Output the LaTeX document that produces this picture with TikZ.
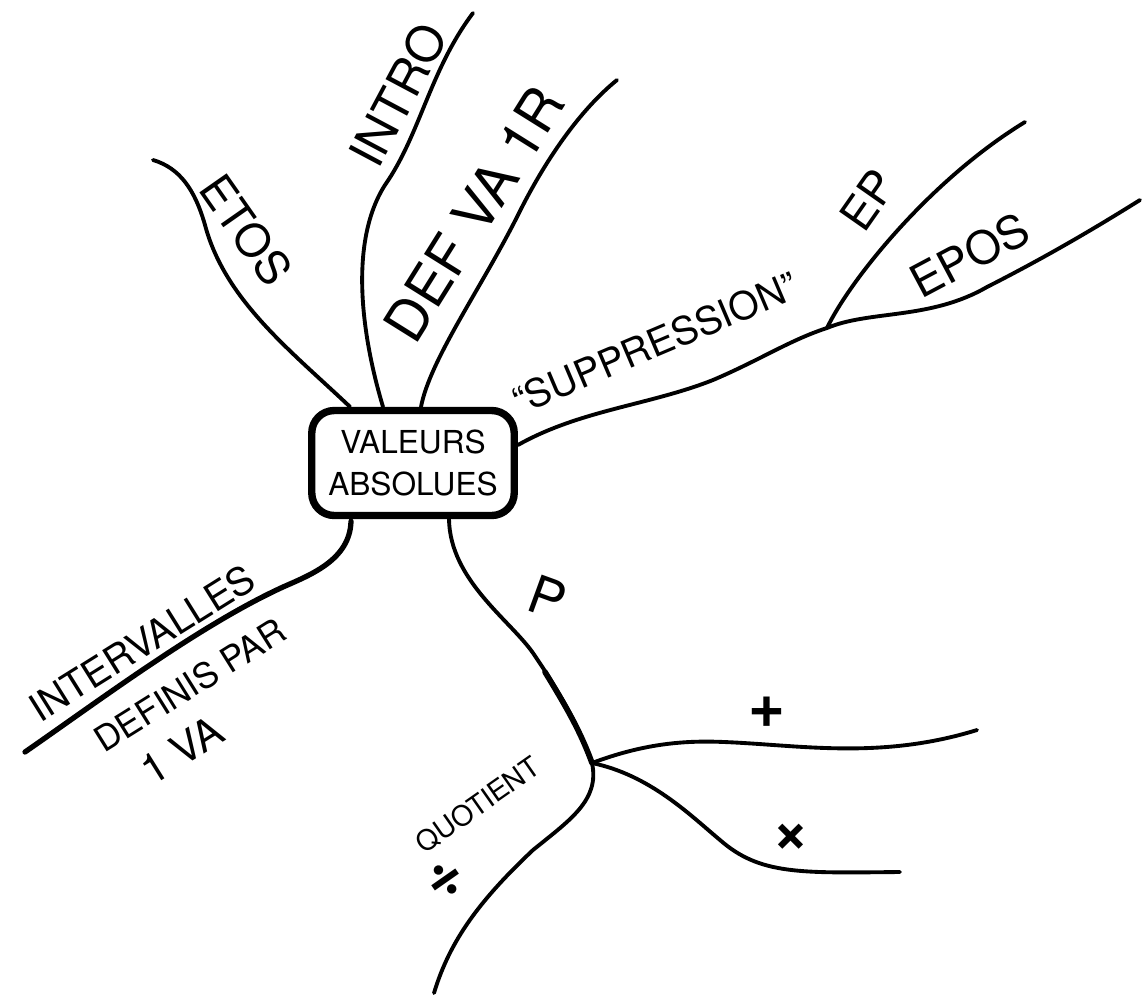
\documentclass[tikz,border=0pt]{standalone}
\usepackage{fontspec}
\setmainfont{TeX Gyre Heros}
\usetikzlibrary{calc}
\begin{document}
\begin{tikzpicture}[x=0.02cm,y=-0.02cm,
  branch/.style={line width=2.2pt,line cap=round,line join=round},
  thickbranch/.style={line width=3pt,line cap=round},
  hand/.style={inner sep=0pt},
  centerbox/.style={draw,line width=4.2pt,rounded corners=0.45cm,minimum width=4.05cm,minimum height=2.1cm,align=center,font=\fontsize{18}{24}\selectfont,inner sep=2pt}]
\useasboundingbox (0,0) rectangle (1143,998);

\node[centerbox] (box) at (413,463) {VALEURS\\ABSOLUES};

% upper branches
\draw[branch] ($(box.north)+(-63,0)$) .. controls (290,350) and (225,300) .. (205,225) .. controls (195,190) and (180,168) .. (153,160) coordinate (etosEnd);
\draw[branch] ($(box.north)+(-30,0)$) .. controls (360,330) and (350,240) .. (385,185) .. controls (420,135) and (430,70) .. (473,13) coordinate (introEnd);
\draw[branch] ($(box.north)+(8,0)$) .. controls (430,360) and (480,290) .. (517,217) .. controls (545,160) and (580,110) .. (617,80) coordinate (defEnd);

% suppression
\coordinate (fork1) at (827,328);
\draw[branch] ($(box.east)+(0,-18)$) .. controls (580,410) and (650,405) .. (713,380) .. controls (760,360) and (790,340) .. (fork1);
\draw[branch] (fork1) .. controls (850,280) and (930,180) .. (1025,122) coordinate (epEnd);
\draw[branch] (fork1) .. controls (870,310) and (930,320) .. (987,287) .. controls (1050,255) and (1100,225) .. (1140,200) coordinate (eposEnd);

% intervalles
\draw[thickbranch] ($(box.south)+(-62,2)$) .. controls (350,560) and (310,575) .. (283,587) .. controls (200,625) and (100,700) .. (25,752) coordinate (intEnd);

% P branch
\coordinate (fork2) at (592,763);
\draw[branch] ($(box.south)+(36,0)$) .. controls (450,580) and (510,620) .. (533,653) .. controls (565,700) and (580,730) .. (fork2);
\draw[line width=3.2pt,line cap=round] (545,672) .. controls (565,705) and (580,730) .. (fork2);
\draw[branch] (fork2) .. controls (640,745) and (680,740) .. (724,742) .. controls (800,745) and (880,760) .. (977,730) coordinate (plusEnd);
\draw[branch] (fork2) .. controls (650,775) and (690,815) .. (720,840) .. controls (760,875) and (800,873) .. (900,872) coordinate (timesEnd);
\draw[branch] (fork2) .. controls (600,800) and (570,820) .. (533,850) .. controls (480,900) and (450,940) .. (434,993) coordinate (quotEnd);

% labels
\node[hand,rotate=-55,font=\fontsize{26}{26}\selectfont] (etos) at (246,230) {ETOS};
\node[hand,rotate=62,font=\fontsize{28}{28}\selectfont] (intro) at (398,95) {INTRO};
\node[hand,rotate=58,font=\fontsize{32}{32}\selectfont] (defva) at (474,214) {DEF VA 1R};
\node[hand,rotate=23,font=\fontsize{22}{22}\selectfont] (supp) at (655,343) {``SUPPRESSION''};
\node[hand,rotate=55,font=\fontsize{26}{26}\selectfont] (ep) at (868,200) {EP};
\node[hand,rotate=28,font=\fontsize{26}{26}\selectfont] (epos) at (970,255) {EPOS};
\node[hand,rotate=32,font=\fontsize{22}{22}\selectfont] (interv) at (142,643) {INTERVALLES};
\node[hand,rotate=32,font=\fontsize{20}{20}\selectfont] (definis) at (190,685) {DEFINIS PAR};
\node[hand,rotate=32,font=\fontsize{24}{24}\selectfont] (unva) at (182,750) {1 VA};
\node[hand,rotate=-20,font=\fontsize{30}{30}\selectfont] (p) at (548,597) {P};
\node[hand,font=\bfseries\fontsize{36}{36}\selectfont] (plus) at (767,712) {+};
\node[hand,font=\bfseries\fontsize{36}{36}\selectfont] (times) at (791,838) {×};
\node[hand,rotate=35,font=\fontsize{16}{16}\selectfont] (quot) at (478,805) {QUOTIENT};
\node[hand,rotate=35,font=\bfseries\fontsize{36}{36}\selectfont] (div) at (446,880) {÷};
\end{tikzpicture}
\end{document}
